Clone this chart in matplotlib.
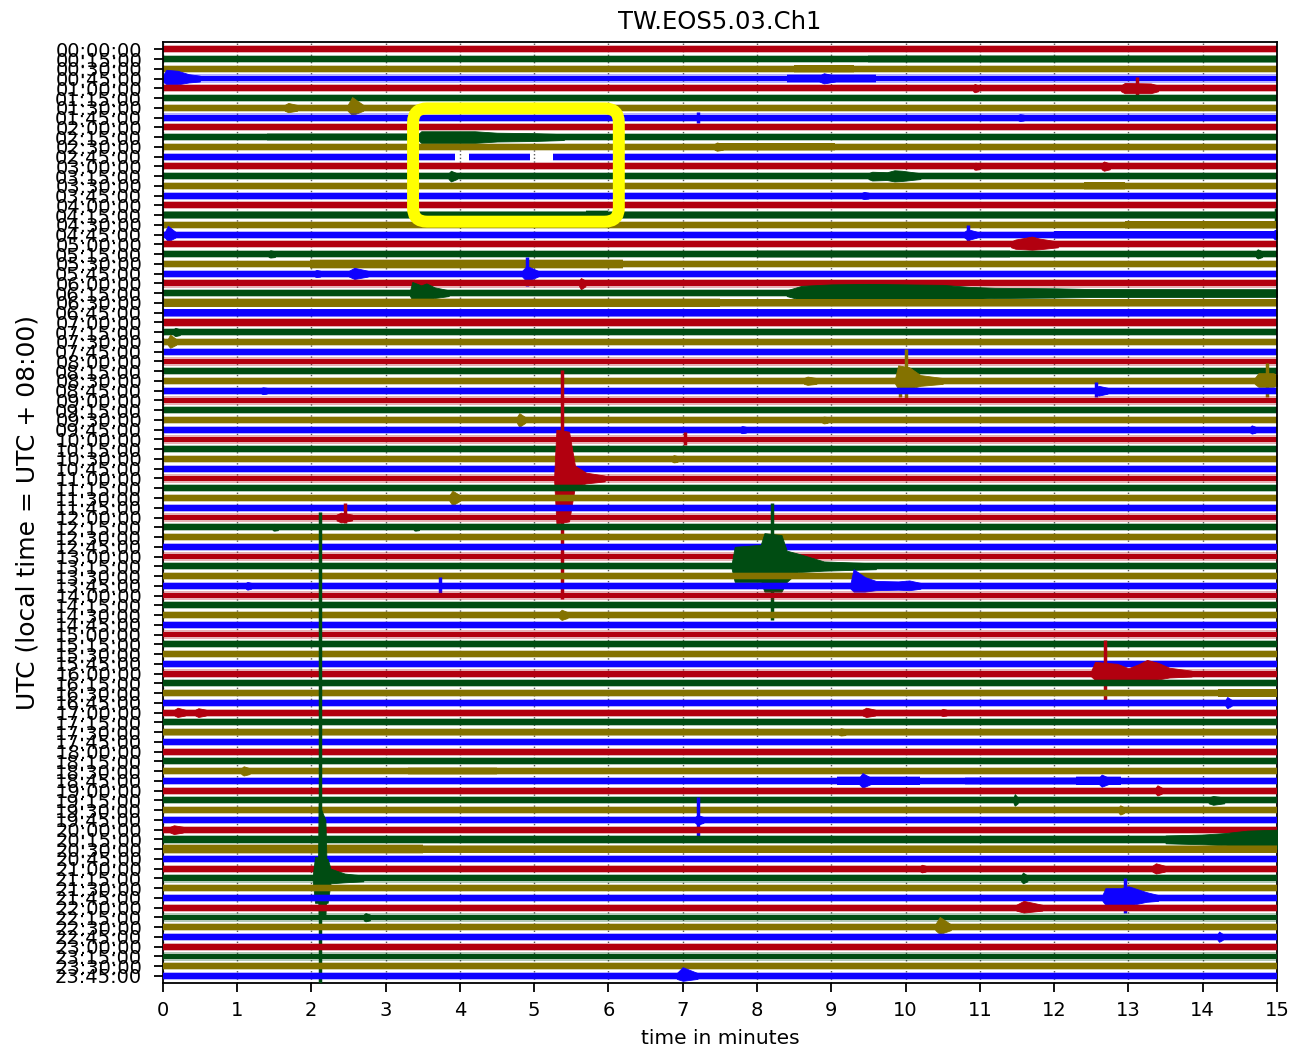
import matplotlib
matplotlib.use("Agg")
import matplotlib.pyplot as plt
from matplotlib.patches import FancyBboxPatch

# ---------------------------------------------------------------- data
STATION = "TW.EOS5.03.Ch1"
TRACE_COLORS = ["#B2000F", "#004C12", "#847200", "#0E01FF"]
ROW_LABELS = [f"{h:02d}:{m:02d}:00" for h in range(24) for m in (0, 15, 30, 45)]
MINUTE_TICKS = list(range(16))
BASE_NOISE = 0.3  # half width of the quiet trace, in rows

# stretches with raised noise: (row, t_start, t_end, half width)
NOISE_BANDS = [
    (1, 9.5, 15.0, 0.38), (2, 8.5, 9.3, 0.4), (3, 8.4, 9.6, 0.5),
    (9, 1.4, 3.45, 0.38), (10, 7.46, 9.05, 0.4), (14, 12.4, 12.95, 0.42),
    (17, 0.0, 15.0, 0.38), (17, 5.7, 6.0, 0.55), (18, 12.95, 15.0, 0.42),
    (19, 12.0, 15.0, 0.4), (21, 8.0, 11.4, 0.38), (22, 1.98, 6.2, 0.5),
    (26, 0.0, 7.5, 0.46), (26, 7.5, 15.0, 0.42), (27, 0.0, 15.0, 0.42),
    (28, 0.0, 15.0, 0.4), (66, 14.2, 15.0, 0.45), (70, 0.0, 15.0, 0.36),
    (74, 3.3, 4.5, 0.38), (75, 9.08, 10.2, 0.46), (75, 10.8, 12.3, 0.38),
    (75, 12.3, 12.9, 0.46), (81, 0.0, 13.6, 0.4), (82, 0.0, 3.5, 0.48),
    (82, 3.5, 15.0, 0.42),
]

# missing data: (row, t_start, t_end)
GAPS = [(11, 3.93, 4.12), (11, 4.95, 5.25)]

# small arrivals: (row, t_peak, duration, amp up, amp down)
BLIPS = [
    (3, 8.9, 0.15, 0.55, 0.5), (4, 10.93, 0.05, 0.45, 0.4),
    (6, 1.69, 0.12, 0.5, 0.45), (6, 2.55, 0.15, 1.1, 0.75),
    (7, 11.54, 0.05, 0.35, 0.35), (10, 7.46, 0.08, 0.45, 0.4),
    (12, 12.67, 0.08, 0.5, 0.45), (12, 10.94, 0.05, 0.38, 0.35),
    (13, 3.88, 0.08, 0.55, 0.55), (15, 9.44, 0.06, 0.38, 0.35),
    (19, 0.07, 0.1, 0.9, 0.7), (19, 14.97, 0.05, 0.5, 0.5),
    (19, 10.84, 0.12, 0.55, 0.55),
    (21, 1.45, 0.06, 0.4, 0.35), (21, 14.74, 0.06, 0.5, 0.45),
    (23, 2.58, 0.18, 0.6, 0.55), (23, 2.07, 0.05, 0.38, 0.35),
    (23, 4.9, 0.15, 0.8, 0.8),
    (24, 5.63, 0.06, 0.55, 0.6), (29, 0.17, 0.06, 0.45, 0.4),
    (30, 0.1, 0.08, 0.75, 0.6), (34, 8.68, 0.12, 0.45, 0.4),
    (35, 1.35, 0.05, 0.35, 0.35), (35, 12.6, 0.12, 0.5, 0.5),
    (38, 4.8, 0.08, 0.7, 0.7),
    (38, 8.9, 0.05, 0.35, 0.35), (39, 7.8, 0.05, 0.38, 0.35),
    (39, 14.66, 0.05, 0.45, 0.4), (42, 6.88, 0.05, 0.4, 0.35),
    (46, 3.9, 0.1, 0.75, 0.75), (48, 2.4, 0.15, 0.5, 0.5),
    (49, 1.5, 0.05, 0.35, 0.35),
    (49, 3.4, 0.05, 0.35, 0.35), (55, 1.14, 0.05, 0.4, 0.4),
    (58, 5.37, 0.08, 0.55, 0.5), (67, 14.33, 0.06, 0.6, 0.55),
    (68, 0.2, 0.1, 0.5, 0.45), (68, 0.48, 0.1, 0.45, 0.45),
    (68, 9.47, 0.12, 0.5, 0.45), (68, 10.5, 0.05, 0.38, 0.35),
    (70, 9.13, 0.06, 0.4, 0.35), (74, 1.09, 0.08, 0.5, 0.45),
    (75, 9.42, 0.12, 0.8, 0.7), (75, 12.64, 0.1, 0.65, 0.6),
    (76, 13.39, 0.06, 0.55, 0.5), (77, 11.47, 0.04, 0.65, 0.55),
    (77, 14.14, 0.15, 0.45, 0.45), (78, 12.89, 0.05, 0.5, 0.45),
    (79, 7.2, 0.08, 0.5, 0.5),
    (80, 0.15, 0.12, 0.45, 0.45), (84, 10.22, 0.05, 0.4, 0.38),
    (84, 13.37, 0.12, 0.55, 0.5), (85, 11.58, 0.06, 0.6, 0.5),
    (88, 11.59, 0.25, 0.7, 0.5), (89, 2.73, 0.06, 0.45, 0.4),
    (90, 10.46, 0.15, 1.05, 0.7), (91, 14.22, 0.05, 0.55, 0.5),
    (95, 7.0, 0.2, 0.9, 0.5),
]

# larger events: (row, times, upper envelope, lower envelope)
EVENTS = [
    (3, [0.0, 0.05, 0.2, 0.35, 0.5], [0.3, 0.9, 0.8, 0.45, 0.3], [0.3, 0.6, 0.6, 0.4, 0.3]),
    (4, [12.9, 12.95, 13.3, 13.4], [0.3, 0.55, 0.5, 0.3], [0.3, 0.5, 0.5, 0.3]),
    (9, [3.44, 3.48, 4.2, 4.5, 5.0, 5.4], [0.3, 0.6, 0.6, 0.45, 0.4, 0.3], [0.3, 0.6, 0.6, 0.45, 0.4, 0.3]),
    (13, [9.5, 9.55, 9.75, 9.85, 9.95, 10.2], [0.3, 0.45, 0.4, 0.6, 0.55, 0.3], [0.3, 0.45, 0.4, 0.55, 0.5, 0.3]),
    (20, [11.42, 11.48, 11.7, 11.8, 12.05], [0.3, 0.5, 0.8, 0.6, 0.3], [0.3, 0.45, 0.55, 0.5, 0.3]),
    (25, [3.33, 3.36, 3.48, 3.55, 3.66, 3.85], [0.3, 1.15, 0.8, 1.0, 0.6, 0.3], [0.3, 0.7, 0.7, 0.8, 0.5, 0.3]),
    (25, [8.4, 8.6, 9.0, 9.5, 10.0, 10.5, 10.85, 11.2, 12.0, 12.5, 15.0],
     [0.3, 0.75, 0.9, 0.95, 0.9, 0.85, 0.65, 0.55, 0.5, 0.42, 0.4],
     [0.3, 0.7, 0.8, 0.85, 0.8, 0.75, 0.6, 0.5, 0.45, 0.4, 0.38]),
    (34, [9.86, 9.9, 10.05, 10.2, 10.5], [0.3, 1.6, 1.4, 0.6, 0.3], [0.3, 0.8, 0.8, 0.5, 0.3]),
    (34, [14.7, 14.75, 14.95, 15.0], [0.3, 0.8, 0.8, 0.6], [0.3, 0.6, 0.6, 0.5]),
    (44, [5.27, 5.30, 5.47, 5.55, 5.70, 5.95], [0.3, 5.0, 4.8, 1.3, 0.6, 0.3], [0.3, 4.6, 4.4, 0.8, 0.5, 0.3]),
    (53, [7.66, 7.70, 8.05, 8.10, 8.33, 8.40, 8.55, 8.90, 9.6], [0.3, 2.0, 2.2, 3.4, 3.2, 1.6, 1.3, 0.5, 0.3],
     [0.3, 1.6, 1.6, 2.6, 2.6, 1.6, 0.6, 0.45, 0.3]),
    (55, [9.26, 9.30, 9.45, 9.60, 9.90, 10.05, 10.2], [0.3, 1.7, 0.9, 0.5, 0.45, 0.55, 0.3],
     [0.3, 0.6, 0.6, 0.45, 0.4, 0.45, 0.3]),
    (64, [12.5, 12.55, 12.85, 13.0, 13.15, 13.25, 13.4, 13.55, 13.85], [0.3, 1.2, 1.0, 0.55, 1.0, 1.4, 1.1, 0.6, 0.3],
     [0.3, 0.65, 0.65, 0.65, 0.65, 0.65, 0.6, 0.4, 0.3]),
    (81, [13.5, 14.0, 14.3, 14.6, 15.0], [0.4, 0.5, 0.65, 0.9, 1.0], [0.4, 0.5, 0.6, 0.85, 0.95]),
    (85, [2.02, 2.05, 2.22, 2.26, 2.45, 2.70], [0.3, 2.2, 2.0, 1.0, 0.5, 0.3], [0.3, 2.5, 2.5, 0.5, 0.4, 0.3]),
    (85, [2.09, 2.10, 2.19, 2.21], [0.3, 7.7, 6.0, 0.3], [0.3, 4.0, 4.0, 0.3]),
    (87, [12.65, 12.69, 12.90, 13.0, 13.24, 13.4], [0.3, 1.0, 1.0, 1.2, 0.6, 0.3], [0.3, 0.7, 0.7, 0.8, 0.4, 0.3]),
]

# narrow peaks: (row, t, reach up, reach down)
SPIKES = [
    (4, 13.12, 1.2, 0.75), (7, 7.2, 0.55, 0.55), (17, 14.98, 0.75, 0.6),
    (19, 10.84, 1.0, 0.9), (23, 4.9, 1.75, 1.3), (34, 10.0, 3.3, 2.0),
    (34, 9.92, 0.5, 1.6), (34, 14.86, 1.85, 1.6), (35, 12.57, 0.9, 0.65),
    (40, 7.03, 0.75, 0.6), (44, 5.37, 11.1, 12.4), (48, 2.45, 1.5, 0.6),
    (53, 8.2, 6.5, 5.5), (55, 3.73, 0.9, 0.7), (64, 12.69, 3.4, 2.7),
    (79, 7.2, 2.3, 1.7), (85, 2.12, 37.6, 11.0), (87, 12.95, 2.0, 1.5),
]

# highlighted window (minutes, rows)
BOX_T = (3.37, 6.14)
BOX_ROWS = (6.06, 17.67)


def row_segments(row):
    cuts = sorted((a, b) for r, a, b in GAPS if r == row)
    segs, start = [], 0.0
    for a, b in cuts:
        segs.append((start, a))
        start = b
    segs.append((start, 15.0))
    return segs


W, H, DPI = 1291, 1048, 100
fig = plt.figure(figsize=(W / DPI, H / DPI), dpi=DPI)
ax = fig.add_axes([162.7 / W, (H - 982.7) / H, 1114.3 / W, 941 / H])

n_rows = len(ROW_LABELS)
for row in range(n_rows):
    c = TRACE_COLORS[row % 4]
    y = -row
    z = 2 + row * 0.01
    for t0, t1 in row_segments(row):
        ax.fill_between([t0, t1], y - BASE_NOISE * 1.4, y + BASE_NOISE * 1.4, color=c, alpha=0.3, lw=0, zorder=z)
        ax.fill_between([t0, t1], y - BASE_NOISE, y + BASE_NOISE, color=c, lw=0, zorder=z)

# noisy stretches: solid core plus a lighter fringe
for row, t0, t1, amp in NOISE_BANDS:
    c = TRACE_COLORS[row % 4]
    y = -row
    core = (BASE_NOISE + amp) / 2
    ax.fill_between([t0, t1], y - amp, y + amp, color=c, alpha=0.35, lw=0, zorder=2 + row * 0.01)
    ax.fill_between([t0, t1], y - core, y + core, color=c, lw=0, zorder=2 + row * 0.01)

for row, t, dur, up, dn in BLIPS:
    y = -row
    tt = [t - 0.4 * dur, t, t + dur]
    ax.fill_between(tt, [y - BASE_NOISE, y - dn, y - BASE_NOISE], [y + BASE_NOISE, y + up, y + BASE_NOISE],
                    color=TRACE_COLORS[row % 4], lw=0.6, edgecolor=TRACE_COLORS[row % 4], zorder=2 + row * 0.01)

for row, tt, up, dn in EVENTS:
    y = -row
    ax.fill_between(tt, [y - d for d in dn], [y + u for u in up],
                    color=TRACE_COLORS[row % 4], lw=0.6, edgecolor=TRACE_COLORS[row % 4], zorder=2 + row * 0.01)

for row, t, up, dn in SPIKES:
    y = -row
    ax.vlines(t, y - dn, y + up, color=TRACE_COLORS[row % 4], lw=2.5, zorder=2 + row * 0.01)

# axes styling
ax.set_xlim(0, 15)
ax.set_ylim(-(n_rows - 1) - 0.69, 0.78)
ax.set_xticks(MINUTE_TICKS)
ax.set_xticklabels([str(m) for m in MINUTE_TICKS], fontsize=14)
ax.set_yticks([-r for r in range(n_rows)])
ax.set_yticklabels(ROW_LABELS, fontsize=14)
ax.tick_params(axis="both", length=6.3, width=1.3, direction="out")
ax.tick_params(axis="y", pad=8.5)
ax.tick_params(axis="x", pad=7)
for sp in ax.spines.values():
    sp.set_linewidth(1.3)
ax.set_axisbelow(True)
ax.grid(axis="x", linestyle=":", color="0.35", linewidth=1.0)

ax.set_title(STATION, fontsize=17.5, pad=9)
ax.set_xlabel("time in minutes", fontsize=14.5, labelpad=6)
ax.set_ylabel("UTC (local time = UTC + 08:00)", fontsize=18)
ax.yaxis.set_label_coords((40 - 162.7) / 1114.3, 0.5)

# yellow rounded highlight box, radius in pixels turned into data units
min_per_px = 15 / 1114.3
rows_per_px = (n_rows - 1 + 0.69 + 0.78) / 941
radius = 14 * min_per_px
box = FancyBboxPatch((BOX_T[0], -BOX_ROWS[1]), BOX_T[1] - BOX_T[0], BOX_ROWS[1] - BOX_ROWS[0],
                     boxstyle=f"round,pad=0,rounding_size={radius}",
                     mutation_aspect=rows_per_px / min_per_px,
                     fill=False, edgecolor="#FFFF00", linewidth=8.6, zorder=10)
ax.add_patch(box)

fig.savefig("out.png", dpi=DPI)
